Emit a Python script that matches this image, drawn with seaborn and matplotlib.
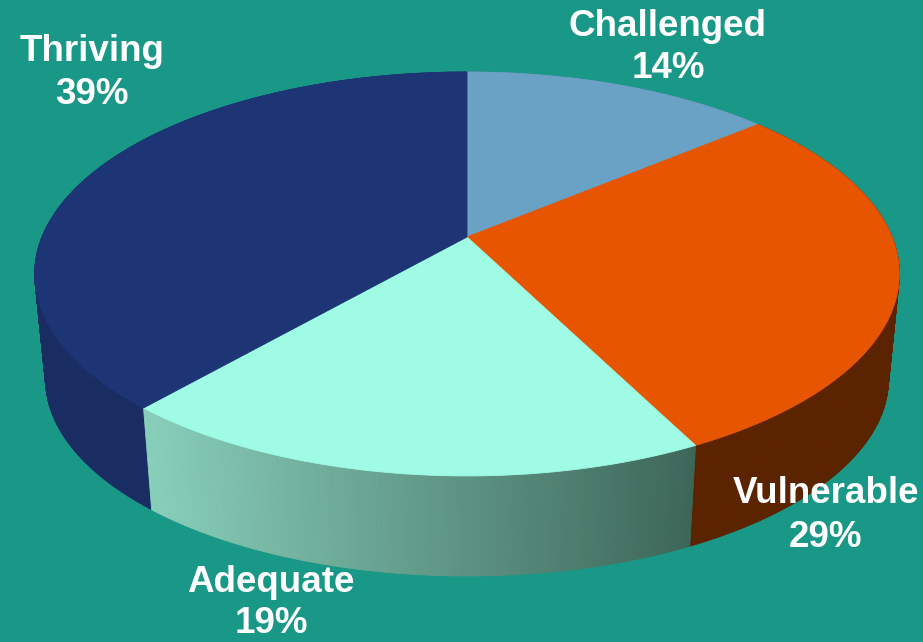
import numpy as np
import matplotlib.pyplot as plt
import seaborn as sns
from matplotlib.collections import PolyCollection
from matplotlib.colors import to_rgb

# data (clockwise from 12 o'clock)
labels = ["Challenged", "Vulnerable", "Adequate", "Thriving"]
pcts = [14, 29, 19, 39]

top_colors = ["#6aa2c6", "#e85500", "#a0fbe5", "#1d3575"]
wall_colors = ["#4f7a95", "#5c2300", None, "#1a2d63"]   # None -> gradient
adequate_grad = ("#3d6659", "#89d0bb")                    # right (dark) -> left (light)
bg = "#1a9887"

sns.set_theme(style="white")
plt.rcParams["font.family"] = ["Liberation Sans", "DejaVu Sans"]

# view of the tilted disc (pixel space)
cx, cy = 467, 237
A, B, k = 425, 195.2, 0.183
drop, shrink = 106, 0.975


def project(theta, d=0.0, s=1.0):
    u, v = np.cos(theta), np.sin(theta)
    w = 1 + k * v
    return cx + A * s * u / w, cy + d - B * s * v / w


frac = np.array(pcts) / sum(pcts)
cum = np.concatenate([[0], np.cumsum(frac)])
starts = np.radians(90 - cum[:-1] * 360)
ends = np.radians(90 - cum[1:] * 360)

fig = plt.figure(figsize=(9.23, 6.42), dpi=100)
fig.patch.set_facecolor(bg)
ax = fig.add_axes([0, 0, 1, 1])
ax.set_facecolor(bg)
ax.set_xlim(0, 923)
ax.set_ylim(642, 0)
ax.axis("off")

# side walls, built as thin strips, back to front
quads, cols, keys = [], [], []
for i in range(len(pcts)):
    n = max(int(np.degrees(starts[i] - ends[i]) * 2), 4)
    th = np.linspace(starts[i], ends[i], n)
    xt, yt = project(th)
    xb, yb = project(th, drop, shrink)
    x0, x1 = xt.max(), xt.min()
    for j in range(n - 1):
        quads.append([(xt[j], yt[j]), (xt[j + 1], yt[j + 1]),
                      (xb[j + 1], yb[j + 1]), (xb[j], yb[j])])
        if wall_colors[i] is None:
            t = (x0 - 0.5 * (xt[j] + xt[j + 1])) / (x0 - x1)
            c = (1 - t) * np.array(to_rgb(adequate_grad[0])) + t * np.array(to_rgb(adequate_grad[1]))
        else:
            c = to_rgb(wall_colors[i])
        cols.append(c)
        keys.append(np.sin(0.5 * (th[j] + th[j + 1])))

order = np.argsort(keys)[::-1]
pc = PolyCollection([quads[o] for o in order], facecolors=[cols[o] for o in order],
                    edgecolors=[cols[o] for o in order], linewidths=0.6)
ax.add_collection(pc)

# top faces
for i in range(len(pcts)):
    th = np.linspace(starts[i], ends[i], 200)
    xs, ys = project(th)
    ax.fill(np.r_[cx, xs], np.r_[cy, ys], color=top_colors[i], lw=0.6, ec=top_colors[i])

# labels
label_xy = [(668, 36, 78), (826, 503, 547), (271, 592, 633), (92, 61, 104)]
for name, p, (x, y1, y2) in zip(labels, pcts, label_xy):
    ax.text(x, y1, name, ha="center", va="baseline", fontsize=26.5, fontweight="bold", color="white")
    ax.text(x, y2, f"{p}%", ha="center", va="baseline", fontsize=26.5, fontweight="bold", color="white")

fig.savefig("out.png", dpi=100, facecolor=bg)
